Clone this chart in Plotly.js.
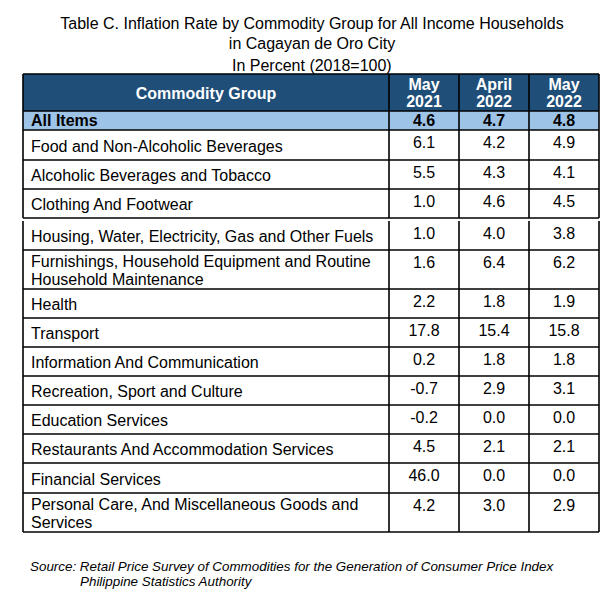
<!DOCTYPE html>
<html>
<head>
<meta charset="utf-8">
<script src="https://cdn.plot.ly/plotly-3.0.1.min.js"></script>
<style>
  html, body { margin: 0; padding: 0; background: #fff; }
</style>
</head>
<body>
<div id="chart" style="width:611px;height:594px"></div>
<script>
// ---- data ----
const groups = [
    "Food and Non-Alcoholic Beverages",
    "Alcoholic Beverages and Tobacco",
    "Clothing And Footwear",
    "Housing, Water, Electricity, Gas and Other Fuels",
    "Furnishings, Household Equipment and Routine\nHousehold Maintenance",
    "Health",
    "Transport",
    "Information And Communication",
    "Recreation, Sport and Culture",
    "Education Services",
    "Restaurants And Accommodation Services",
    "Financial Services",
    "Personal Care, And Miscellaneous Goods and\nServices"
];
const may2021 = [6.1, 5.5, 1.0, 1.0, 1.6, 2.2, 17.8, 0.2, -0.7, -0.2, 4.5, 46.0, 4.2];
const apr2022 = [4.2, 4.3, 4.6, 4.0, 6.4, 1.8, 15.4, 1.8, 2.9, 0.0, 2.1, 0.0, 3.0];
const may2022 = [4.9, 4.1, 4.5, 3.8, 6.2, 1.9, 15.8, 1.8, 3.1, 0.0, 2.1, 0.0, 2.9];
const periods = ["May\n2021", "April\n2022", "May\n2022"];
const allItemsLabel = "All Items";
const allItems = [4.6, 4.7, 4.8];
const groupHeader = "Commodity Group";

// ---- table geometry (pixels, y grows downward) ----
const colEdges = [23, 389, 459, 529, 599];
const tableTop = 74;
const headerHeight = 37;
const allItemsHeight = 19;
const rowHeights = [30, 29, 29, 29, 39, 29, 29, 29, 29, 29, 29, 30, 39];
const gapAfter = 2, gapSize = 3;   // small break under "Clothing And Footwear"
const lineGap = 18;
const labelDy = 2.5;
const valueDy = 13.5;
const textPad = 8;

const headBlue = "#1F4E79";
const allBlue = "#9DC3E6";
const font = "Liberation Sans, Arial, sans-serif";

const colCenters = colEdges.slice(1).map((x, i) => (x + colEdges[i]) / 2);
const series = [may2021, apr2022, may2022];

// row boxes: header, all items, then groups
const rows = [{ top: tableTop, h: headerHeight }, { top: tableTop + headerHeight, h: allItemsHeight }];
let y = tableTop + headerHeight + allItemsHeight;
rowHeights.forEach((h, i) => {
    rows.push({ top: y, h: h });
    y += h;
    if (i === gapAfter) y += gapSize;
});

function spread(text, cy, gap) {
    const parts = text.split("\n");
    return parts.map((t, k) => ({ t: t, y: cy + (k - (parts.length - 1) / 2) * gap }));
}

// ---- shapes ----
const shapes = [];
const lineStyle = { color: "#000", width: 1.6 };
shapes.push({ type: "rect", layer: "below", x0: colEdges[0], x1: colEdges[4], y0: rows[0].top, y1: rows[0].top + rows[0].h,
    fillcolor: headBlue, line: { width: 0 } });
shapes.push({ type: "rect", layer: "below", x0: colEdges[0], x1: colEdges[4], y0: rows[1].top, y1: rows[1].top + rows[1].h,
    fillcolor: allBlue, line: { width: 0 } });
shapes.push({ type: "line", x0: colEdges[0], x1: colEdges[4], y0: tableTop, y1: tableTop, line: lineStyle });
rows.forEach(r => {
    shapes.push({ type: "line", x0: colEdges[0], x1: colEdges[4], y0: r.top + r.h, y1: r.top + r.h, line: lineStyle });
    colEdges.forEach(x => {
        shapes.push({ type: "line", x0: x, x1: x, y0: r.top, y1: r.top + r.h, line: lineStyle });
    });
});

// ---- text traces ----
const head = { x: [], y: [], text: [] };
const headMid = rows[0].top + rows[0].h / 2 + 2;
spread(groupHeader, headMid, 17).forEach(p => {
    head.x.push((colEdges[0] + colEdges[1]) / 2); head.y.push(p.y); head.text.push("<b>" + p.t + "</b>");
});
periods.forEach((p, c) => {
    spread(p, headMid, 17).forEach(q => {
        head.x.push(colCenters[c + 1]); head.y.push(q.y); head.text.push("<b>" + q.t + "</b>");
    });
});

const labels = { x: [], y: [], text: [] };
const values = { x: [], y: [], text: [] };
const allY = rows[1].top + rows[1].h / 2 + 1;
labels.x.push(colEdges[0] + textPad); labels.y.push(allY); labels.text.push("<b>" + allItemsLabel + "</b>");
allItems.forEach((v, c) => {
    values.x.push(colCenters[c + 1]); values.y.push(allY); values.text.push("<b>" + v.toFixed(1) + "</b>");
});
groups.forEach((g, i) => {
    const r = rows[i + 2];
    spread(g, r.top + r.h / 2 + labelDy, lineGap).forEach(p => {
        labels.x.push(colEdges[0] + textPad); labels.y.push(p.y); labels.text.push(p.t);
    });
    series.forEach((s, c) => {
        values.x.push(colCenters[c + 1]); values.y.push(r.top + valueDy); values.text.push(s[i].toFixed(1));
    });
});

const traces = [
    { type: "scatter", mode: "text", x: head.x, y: head.y, text: head.text, textposition: "middle center",
      textfont: { family: font, size: 16, color: "#fff" }, hoverinfo: "skip" },
    { type: "scatter", mode: "text", x: labels.x, y: labels.y, text: labels.text, textposition: "middle right",
      textfont: { family: font, size: 16, color: "#000" }, hoverinfo: "skip" },
    { type: "scatter", mode: "text", x: values.x, y: values.y, text: values.text, textposition: "middle center",
      textfont: { family: font, size: 16, color: "#000" }, hoverinfo: "skip" }
];

const layout = {
    width: 611, height: 594,
    margin: { l: 0, r: 0, t: 0, b: 0 },
    paper_bgcolor: "#fff", plot_bgcolor: "#fff",
    showlegend: false,
    title: {
        text: "Table C. Inflation Rate by Commodity Group for All Income Households<br>in Cagayan de Oro City",
        font: { family: font, size: 16, color: "#000" },
        x: 312 / 611, xanchor: "center",
        y: 1 - 28.5 / 594, yanchor: "middle", yref: "container"
    },
    xaxis: { range: [0, 611], visible: false, fixedrange: true },
    yaxis: { range: [594, 0], visible: false, fixedrange: true },
    shapes: shapes,
    annotations: [
        { text: "In Percent (2018=100)", x: 312, y: 65, xref: "x", yref: "y", showarrow: false,
          font: { family: font, size: 16, color: "#000" } },
        { text: "Source: Retail Price Survey of Commodities for the Generation of Consumer Price Index",
          x: 28, y: 566, xref: "x", yref: "y", xanchor: "left", showarrow: false,
          font: { family: font, size: 13.4, color: "#000", style: "italic" } },
        { text: "Philippine Statistics Authority",
          x: 78, y: 581, xref: "x", yref: "y", xanchor: "left", showarrow: false,
          font: { family: font, size: 13.4, color: "#000", style: "italic" } }
    ]
};

Plotly.newPlot("chart", traces, layout, { displayModeBar: false, staticPlot: true });
</script>
</body>
</html>
